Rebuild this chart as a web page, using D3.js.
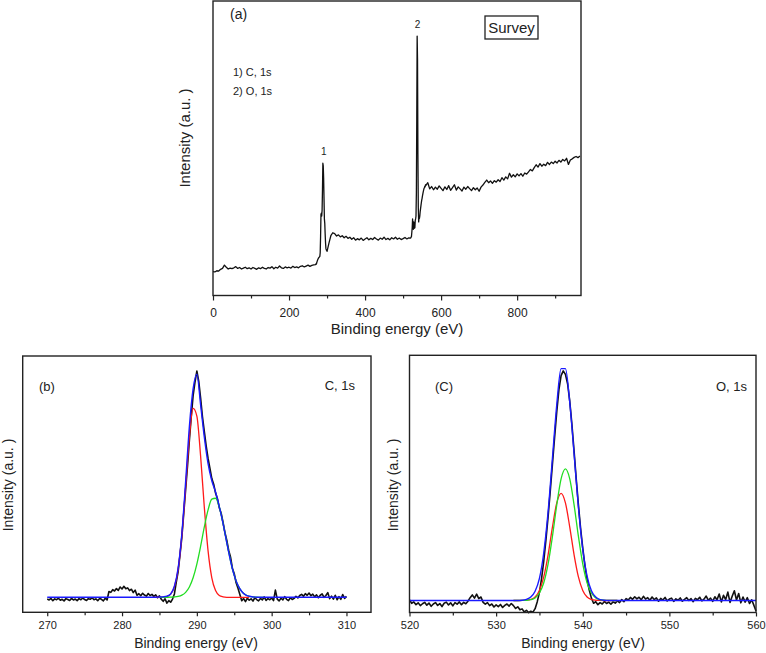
<!DOCTYPE html>
<html><head><meta charset="utf-8">
<script src="https://cdn.jsdelivr.net/npm/d3@7"></script>
<style>
body{margin:0;background:#fff}
svg{display:block}
text{font-family:"Liberation Sans",Arial,sans-serif;fill:#222}
</style>
</head><body>
<svg id="chart" width="766" height="653"></svg>
<script>
// ---------------- DATA ----------------
// Survey spectrum (panel a): intensity (a.u.) on segmented energy grids (eV)
const surveyLowStart = 0, surveyLowStep = 5;       // 0..265
const surveyLow = [8.1,8.0,8.4,8.3,8.9,9.2,10.3,9.6,9.0,9.3,9.1,9.4,9.8,9.2,9.5,9.0,9.3,9.6,9.1,9.4,9.0,9.5,9.2,8.9,9.4,9.1,9.6,9.2,9.0,9.5,9.3,9.8,9.1,9.6,9.3,10.0,9.4,9.2,9.7,9.4,9.6,9.3,9.9,9.5,9.7,9.4,9.9,10.1,9.7,10.0,10.3,9.9,10.2,10.4];
const surveyC1sStart = 270, surveyC1sStep = 1;     // 270..299
const surveyC1s = [10.5,10.8,10.7,11.2,11.6,12.0,12.3,12.6,12.8,13.0,13.1,13.3,14.5,20.0,27.5,28.0,27.0,29.0,36.0,44.9,44.0,40.0,33.0,26.0,24.5,21.0,18.0,16.0,15.5,15.3];
const surveyMidStart = 300, surveyMidStep = 5;     // 300..515
const surveyMid = [15.0,17.8,20.3,21.3,21.0,20.2,20.6,19.9,20.3,19.6,20.1,19.4,19.8,19.1,19.6,18.8,19.3,18.9,19.5,18.7,19.2,19.6,18.9,19.4,19.0,19.7,19.2,18.8,19.5,19.1,19.8,19.0,19.4,18.9,19.6,19.2,19.8,19.1,19.5,19.0,19.3,19.7,19.2,19.6];
const surveyO1sStart = 520, surveyO1sStep = 1;     // 520..559
const surveyO1s = [19.5,19.8,20.0,21.5,23.0,26.0,24.0,22.5,25.0,22.8,24.5,23.0,25.5,26.0,27.0,35.0,60.0,88.1,80.0,48.0,30.0,25.0,26.5,26.2,27.0,28.5,29.5,30.5,31.5,32.4,33.0,33.8,34.5,35.2,35.8,36.3,36.6,37.0,36.9,37.6];
const surveyHighStart = 560, surveyHighStep = 5;   // 560..965
const surveyHigh = [37.4,38.3,36.2,37.0,35.9,36.8,36.1,37.2,36.4,35.6,36.9,36.0,37.3,35.7,36.6,37.6,35.8,36.9,36.2,35.5,36.8,36.1,37.0,36.3,35.6,36.6,35.9,36.5,35.4,36.8,37.5,38.4,39.2,38.3,38.9,38.1,39.0,38.5,39.3,38.7,40.0,39.2,40.3,39.6,41.5,40.2,41.0,40.3,41.3,40.6,41.4,40.5,41.6,41.2,42.0,42.8,42.3,43.4,44.4,43.6,44.8,43.9,44.6,44.1,45.2,44.5,45.3,44.8,45.6,45.0,45.9,45.3,46.2,45.7,46.6,44.5,46.0,46.4,46.9,47.2,46.8,47.4];
const surveyTicks = [0,200,400,600,800];
const surveyMinor = [100,300,500,700,900];
const surveyPeakLabels = [{label:"1", e:290, v:44.9}, {label:"2", e:537, v:88.1}];
const surveyLegend = ["1) C, 1s", "2) O, 1s"];

// C 1s (panel b): normalized intensity
const c1sStart = 270, c1sStep = 0.25;              // 270..310
const c1sData = [-0.8,-1.2,-0.5,-1.5,-0.7,-1.1,-0.4,-1.3,-0.9,-1.6,-0.6,-1.0,-1.4,-0.5,-1.2,-0.8,-1.5,-0.6,-1.1,-0.3,-1.0,-1.4,-0.6,-0.9,-0.2,-1.1,-0.7,-1.5,-0.5,-0.9,-1.6,-0.4,-1.2,
2.6,2.2,3.4,2.8,3.9,3.1,4.6,3.7,4.9,3.8,4.2,3.0,3.6,2.1,3.2,0.9,1.6,0.7,1.8,1.0,0.5,1.7,0.8,1.3,0.4,1.1,-0.2,0.6,-0.9,-1.8,-0.7,-2.6,-1.5,-2.2,-0.8,
1.5,6.8,11.5,19.0,27.0,37.5,48.0,58.5,70.0,80.5,90.0,96.0,101.0,96.5,89.0,80.5,74.0,67.5,62.0,57.5,53.0,50.5,46.5,44.0,40.0,37.5,33.5,29.0,25.5,21.0,18.0,13.0,10.5,6.5,4.0,1.2,
-1.5,-0.6,-1.9,-0.4,-1.3,-0.7,-1.7,-0.2,-1.0,-1.6,-0.5,-1.2,0.2,-1.4,-0.6,-1.1,-0.3,-1.5,3.2,-0.8,-1.6,-0.4,-1.2,0.3,-0.9,-1.5,-0.2,-1.0,-0.5,0.4,-0.3,0.8,1.3,0.5,1.6,0.9,1.9,0.7,1.4,0.2,1.1,-0.2,0.9,1.5,0.0,0.8,2.1,-0.6,0.5,-0.8,0.9,-1.1,0.3,-0.9,1.2,-0.5,0.4];
const c1sFitRedStart = 284, c1sFitStep = 0.5;
const c1sFitRed = [0,0,0,0.07,0.35,1.4,4.7,12.6,27.6,49.3,71.5,84.3,80.9,63.1,40.1,20.7,8.7,3.0,0.8,0.2,0,0,0,0,0,0,0];
const c1sFitGreenStart = 285;
const c1sFitGreen = [0,0,0.01,0.04,0.13,0.37,0.95,2.2,4.6,8.7,14.8,22.7,31.4,39.0,43.8,44.2,40.3,33.0,24.4,16.3,9.8,5.3,2.6,1.1,0.45,0.15,0.05,0,0];
const c1sFitBlueStart = 270;
const c1sFitBlue = [0,0,0,0,0,0,0,0,0,0,0,0,0,0,0,0,0,0,0,0,0,0,0,0,0,0,0,0,
0,0,0.1,0.2,0.5,1.5,4.9,13.0,28.6,51.5,76.1,93.0,99.6,86.0,71.5,59.7,52.0,47.0,40.5,33.0,24.4,16.3,9.8,5.3,2.6,1.1,0.45,0.15,0.05,
0,0,0,0,0,0,0,0,0,0,0,0,0,0,0,0,0,0,0,0,0,0,0,0];
const c1sTicks = [270,280,290,300,310];
const c1sMinor = [275,285,295,305];

// O 1s (panel c): normalized intensity
const o1sStart = 520, o1sStep = 0.25;              // 520..560
const o1sData = [0.3,-1.2,-0.6,-1.8,-1.0,-2.2,-1.4,-0.8,-2.0,-1.1,-2.5,-1.5,-0.9,-2.1,-1.3,-2.6,-1.2,-0.7,-1.9,-1.0,-2.3,-0.9,-1.6,-0.6,-1.8,-0.8,-1.4,-0.3,
1.2,2.4,1.0,2.7,0.8,1.5,-0.8,-1.6,-0.9,-2.2,-1.5,-2.8,-1.9,-2.6,-1.7,-3.0,-2.1,-1.5,-2.4,-1.3,-2.2,-3.4,-2.7,-4.0,-3.6,-4.9,-4.2,-5.2,-4.6,-5.0,-3.5,-0.5,
3.5,9.5,17.0,26.0,36.0,47.0,58.5,70.0,81.0,90.5,96.5,98.5,97.0,93.0,85.5,75.5,64.0,52.0,41.0,31.0,22.5,15.0,9.0,4.5,1.0,
-1.2,-0.5,-1.8,-0.9,-1.5,-0.4,-1.3,-0.7,-1.6,-0.6,-1.1,-0.2,-0.9,0.4,-0.5,0.8,0.2,1.3,0.5,1.6,0.7,1.4,0.3,1.8,0.6,1.2,0.1,1.5,0.4,1.1,-0.3,0.9,0.2,1.3,-0.2,0.6,1.0,-0.4,0.7,0.1,1.1,-0.3,0.5,1.2,0.0,0.8,-0.5,0.9,0.3,1.4,-0.2,0.6,1.9,0.1,1.0,-0.4,1.6,0.3,2.8,-0.6,2.2,0.4,3.6,-0.8,1.8,4.2,0.2,3.0,-1.0,1.5,-0.7,1.2,-1.3,0.3,-2.0,-4.5];
const o1sFitStart = 532, o1sFitStep = 0.5;
const o1sFitRed = [0,0,0.02,0.11,0.45,1.5,4.3,10.1,19.6,31.5,41.9,46.0,41.9,31.5,19.6,10.1,4.3,1.5,0.45,0.11,0.02,0,0,0,0];
const o1sFitGreen = [0,0,0.02,0.09,0.34,1.1,3.2,7.6,15.7,27.5,41.0,52.2,56.5,52.2,41.0,27.5,15.7,7.6,3.2,1.1,0.34,0.09,0.02,0,0];
const o1sFitBlueStart = 520;
const o1sFitBlue = [0,0,0,0,0,0,0,0,0,0,0,0,0,0,0,0,0,0,0,0,0,0,0,0,0,0,
0.1,0.5,1.5,4.0,9.5,20.5,38,61,84,99.5,99.5,85,63,40,22,10.5,4.2,1.5,0.4,0.1,0,
0,0,0,0,0,0,0,0,0,0,0,0,0,0,0,0,0,0,0,0,0,0,0,0,0,0,0,0,0,0,0,0,0,0];
const o1sTicks = [520,530,540,550,560];
const o1sMinor = [525,535,545,555];

// ---------------- HELPERS ----------------
const grid = (start, step, vals) => vals.map((v, i) => [start + i * step, v]);
const svg = d3.select("#chart");
const FONT = '"Liberation Sans",Arial,sans-serif';

function panel(cfg) {
  const g = svg.append("g");
  const x = d3.scaleLinear().domain(cfg.xDomain).range([cfg.left, cfg.right]);
  const y = d3.scaleLinear().domain(cfg.yDomain).range([cfg.bottom, cfg.top]);

  // minor ticks
  g.append("g").attr("transform", `translate(0,${cfg.bottom})`)
    .call(d3.axisBottom(x).tickValues(cfg.minor).tickSize(cfg.minorLen).tickFormat(""))
    .call(s => { s.select(".domain").remove(); s.selectAll("line").attr("stroke","#222").attr("stroke-width",1.2); });
  // major ticks + labels
  g.append("g").attr("transform", `translate(0,${cfg.bottom})`)
    .call(d3.axisBottom(x).tickValues(cfg.ticks).tickSize(cfg.majorLen).tickPadding(cfg.tickPad).tickFormat(d3.format("d")))
    .call(s => {
      s.select(".domain").remove();
      s.selectAll("line").attr("stroke","#222").attr("stroke-width",1.2);
      s.selectAll("text").attr("fill","#222").style("font-family", FONT).style("font-size", cfg.tickFont + "px");
    });

  const line = d3.line().x(d => x(d[0])).y(d => y(d[1]));
  const smooth = d3.line().x(d => x(d[0])).y(d => y(d[1])).curve(d3.curveMonotoneX);

  cfg.series.forEach(s => {
    g.append("path").datum(s.data)
      .attr("fill","none").attr("stroke", s.color).attr("stroke-width", s.width)
      .attr("stroke-linejoin","round")
      .attr("d", s.smooth ? smooth : line);
  });

  // frame
  g.append("rect").attr("x", cfg.left).attr("y", cfg.top)
    .attr("width", cfg.right - cfg.left).attr("height", cfg.bottom - cfg.top)
    .attr("fill","none").attr("stroke","#222").attr("stroke-width",1.4);

  // axis titles
  g.append("text").attr("x", (cfg.xLabelX)).attr("y", cfg.xLabelY)
    .attr("text-anchor","middle").style("font-size", cfg.labelFont + "px").text("Binding energy (eV)");
  g.append("text").attr("transform", `translate(${cfg.yLabelX},${cfg.yLabelY}) rotate(-90)`)
    .attr("text-anchor","middle").style("font-size", cfg.labelFont + "px").text("Intensity (a.u. )");
  return {g, x, y};
}

// ---------------- PANEL A ----------------
const surveyData = [].concat(
  grid(surveyLowStart, surveyLowStep, surveyLow),
  grid(surveyC1sStart, surveyC1sStep, surveyC1s),
  grid(surveyMidStart, surveyMidStep, surveyMid),
  grid(surveyO1sStart, surveyO1sStep, surveyO1s),
  grid(surveyHighStart, surveyHighStep, surveyHigh)
);
const A = panel({
  left: 213, right: 581, top: 1, bottom: 295.5,
  xDomain: [0, 968], yDomain: [0, 100],
  ticks: surveyTicks, minor: surveyMinor, majorLen: 5, minorLen: 3, tickPad: 8, tickFont: 12,
  labelFont: 15, xLabelX: 397, xLabelY: 334, yLabelX: 190, yLabelY: 138,
  series: [{data: surveyData, color: "#111", width: 1.3}]
});
A.g.append("text").attr("x", 230).attr("y", 19).style("font-size","14px").text("(a)");
A.g.append("rect").attr("x", 485).attr("y", 16).attr("width", 53).attr("height", 23)
  .attr("fill","none").attr("stroke","#222").attr("stroke-width",1.3);
A.g.append("text").attr("x", 511.5).attr("y", 33).attr("text-anchor","middle").style("font-size","15px").text("Survey");
surveyLegend.forEach((t, i) => A.g.append("text").attr("x", 233).attr("y", 76 + i * 19).style("font-size","11px").text(t));
surveyPeakLabels.forEach(p => A.g.append("text").attr("x", A.x(p.e) + 0.5).attr("y", A.y(p.v) - 8)
  .attr("text-anchor","middle").style("font-size","10px").text(p.label));

// ---------------- PANEL B ----------------
const B = panel({
  left: 22.7, right: 371, top: 356, bottom: 612.3,
  xDomain: [266.72, 313.28], yDomain: [-6.7, 107.7],
  ticks: c1sTicks, minor: c1sMinor, majorLen: 4, minorLen: 3, tickPad: 5, tickFont: 11,
  labelFont: 14, xLabelX: 196, xLabelY: 648, yLabelX: 13, yLabelY: 485,
  series: [
    {data: grid(c1sStart, c1sStep, c1sData), color: "#111", width: 1.6},
    {data: grid(c1sFitRedStart, c1sFitStep, c1sFitRed), color: "#ff1a1a", width: 1.3, smooth: true},
    {data: grid(c1sFitGreenStart, c1sFitStep, c1sFitGreen), color: "#22dd22", width: 1.3, smooth: true},
    {data: grid(c1sFitBlueStart, c1sFitStep, c1sFitBlue), color: "#1a1aff", width: 1.4, smooth: true}
  ]
});
B.g.append("text").attr("x", 39).attr("y", 391).style("font-size","13px").text("(b)");
B.g.append("text").attr("x", 355).attr("y", 390).attr("text-anchor","end").style("font-size","13px").text("C, 1s");

// ---------------- PANEL C ----------------
const C = panel({
  left: 409.5, right: 756, top: 355.3, bottom: 612.5,
  xDomain: [520, 560], yDomain: [-5.15, 105.2],
  ticks: o1sTicks, minor: o1sMinor, majorLen: 4, minorLen: 3, tickPad: 5, tickFont: 11,
  labelFont: 14, xLabelX: 583, xLabelY: 648, yLabelX: 398, yLabelY: 485,
  series: [
    {data: grid(o1sStart, o1sStep, o1sData), color: "#111", width: 1.6},
    {data: grid(o1sFitStart, o1sFitStep, o1sFitRed), color: "#ff1a1a", width: 1.3, smooth: true},
    {data: grid(o1sFitStart, o1sFitStep, o1sFitGreen), color: "#22dd22", width: 1.3, smooth: true},
    {data: grid(o1sFitBlueStart, o1sFitStep, o1sFitBlue), color: "#1a1aff", width: 1.4, smooth: true}
  ]
});
C.g.append("text").attr("x", 435).attr("y", 391).style("font-size","13px").text("(C)");
C.g.append("text").attr("x", 747).attr("y", 391).attr("text-anchor","end").style("font-size","13px").text("O, 1s");
</script>
</body></html>
